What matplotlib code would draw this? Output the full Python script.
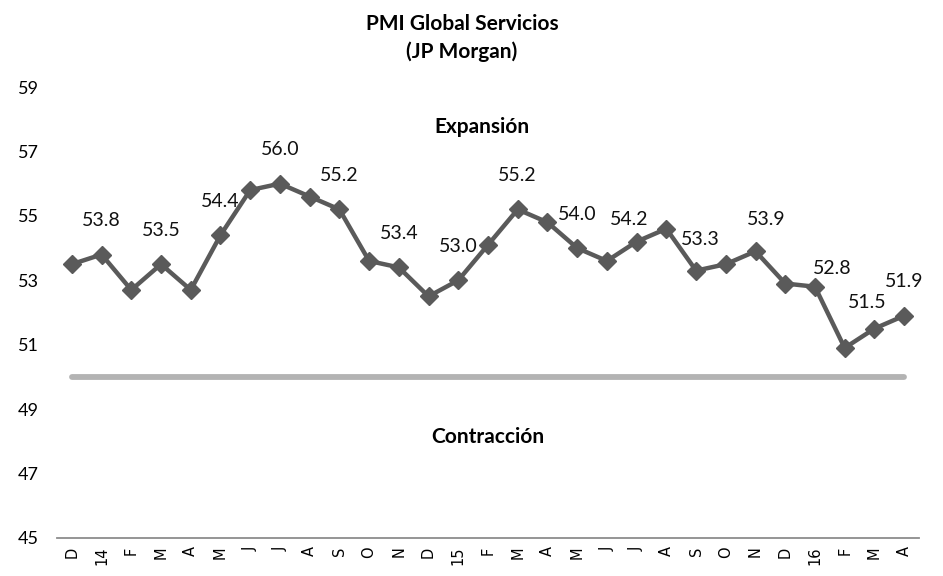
import matplotlib
matplotlib.use("Agg")
import matplotlib.pyplot as plt

months = ["D", "14", "F", "M", "A", "M", "J", "J", "A", "S", "O", "N", "D", "15",
          "F", "M", "A", "M", "J", "J", "A", "S", "O", "N", "D", "16", "F", "M", "A"]
pmi = [53.5, 53.8, 52.7, 53.5, 52.7, 54.4, 55.8, 56.0, 55.6, 55.2, 53.6, 53.4, 52.5, 53.0,
       54.1, 55.2, 54.8, 54.0, 53.6, 54.2, 54.6, 53.3, 53.5, 53.9, 52.9, 52.8, 50.9, 51.5, 51.9]
labeled = [1, 3, 5, 7, 9, 11, 13, 15, 17, 19, 21, 23, 25, 27, 28]
threshold = 50
title = "PMI Global Servicios\n(JP Morgan)"

# label offsets in pixels (dx, dy) relative to the point
label_offsets = {19: (-7, 22), 21: (4, 31), 23: (11, 32), 25: (17, 18), 27: (-7, 26)}

fam = ["Lato", "DejaVu Sans"]
fig = plt.figure(figsize=(9.43, 5.76), dpi=100)
ax = fig.add_axes([57/943, 1-538/576, (919-57)/943, (538-87)/576])

x = list(range(len(months)))
ax.plot([x[0], x[-1]], [threshold, threshold], color="#b3b3b3", lw=4.2,
        solid_capstyle="round", zorder=1)
ax.plot(x, pmi, color="#5a5a5a", lw=3.2, marker="D", markersize=9.5,
        markerfacecolor="#5a5a5a", markeredgecolor="#5a5a5a", zorder=3)

for i in labeled:
    dx, dy = label_offsets.get(i, (0, 34))
    ax.annotate(f"{pmi[i]:.1f}", (x[i], pmi[i]), xytext=(dx*0.72, dy*0.72),
                textcoords="offset points", ha="center", va="center",
                fontsize=14, family=fam, color="#111111")

ax.set_xlim(-0.5, len(months)-0.5)
ax.set_ylim(45, 59)
ax.set_yticks(range(45, 60, 2))
ax.set_yticklabels([str(v) for v in range(45, 60, 2)], family=fam, fontsize=13)
ax.set_xticks(x)
ax.set_xticklabels(months, rotation=90, fontsize=10.5, family=["DejaVu Sans"])
ax.tick_params(axis="y", length=0, pad=13)
ax.tick_params(axis="x", length=0, pad=6)
for s in ["top", "right", "left"]:
    ax.spines[s].set_visible(False)
ax.spines["bottom"].set_color("#8c8c8c")
ax.spines["bottom"].set_linewidth(1.3)

fig.text(462/943, 1-38/576, title, ha="center", va="center", fontsize=15,
         fontweight="bold", family=fam, linespacing=1.45)
fig.text(482/943, 1-127/576, "Expansión", ha="center", va="center",
         fontsize=15, fontweight="bold", family=fam)
fig.text(488/943, 1-437/576, "Contracción", ha="center", va="center",
         fontsize=15, fontweight="bold", family=fam)

fig.savefig("out.png", dpi=100)
